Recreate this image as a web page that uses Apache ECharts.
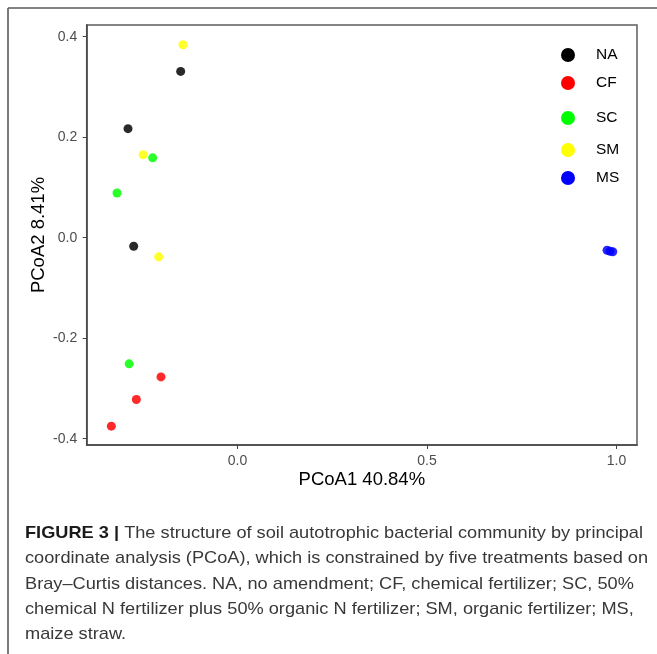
<!DOCTYPE html>
<html>
<head>
<meta charset="utf-8">
<script src="https://cdn.jsdelivr.net/npm/echarts@6/dist/echarts.min.js"></script>
<style>
html,body{margin:0;padding:0;background:#fff;}
#chart{width:657px;height:654px;}
</style>
</head>
<body>
<div id="chart"></div>
<script>
// ---- data ----
var groups = ['NA', 'CF', 'SC', 'SM', 'MS'];
var groupColors = ['#000000', '#ff0000', '#00ff00', '#ffff00', '#0000ff'];
var NA_pts = [[-0.150, 0.331], [-0.289, 0.217], [-0.274, -0.017]];
var CF_pts = [[-0.202, -0.277], [-0.267, -0.322], [-0.333, -0.375]];
var SC_pts = [[-0.224, 0.159], [-0.318, 0.089], [-0.286, -0.251]];
var SM_pts = [[-0.144, 0.384], [-0.249, 0.165], [-0.208, -0.038]];
var MS_pts = [[0.975, -0.025], [0.983, -0.027], [0.990, -0.028]];
var xTicks = [0.0, 0.5, 1.0];
var yTicks = [-0.4, -0.2, 0.0, 0.2, 0.4];
var xTitle = 'PCoA1 40.84%';
var yTitle = 'PCoA2 8.41%';
var captionBold = 'FIGURE 3 |';
var captionLines = [
  ' The structure of soil autotrophic bacterial community by principal',
  'coordinate analysis (PCoA), which is constrained by five treatments based on',
  'Bray\u2013Curtis distances. NA, no amendment; CF, chemical fertilizer; SC, 50%',
  'chemical N fertilizer plus 50% organic N fertilizer; SM, organic fertilizer; MS,',
  'maize straw.'
];

var groupData = [NA_pts, CF_pts, SC_pts, SM_pts, MS_pts];

// ---- layout ----
var chart = echarts.init(document.getElementById('chart'), null, {renderer: 'canvas'});
var FONT = 'Liberation Sans, Arial, sans-serif';

var legendTops = [47, 75, 110, 142, 170];
var legends = groups.map(function (g, i) {
  return {
    data: [g],
    orient: 'vertical',
    left: 561,
    top: legendTops[i],
    padding: 0,
    icon: 'circle',
    itemWidth: 14,
    itemHeight: 14,
    itemStyle: {opacity: 1},
    selectedMode: false,
    textStyle: {
      fontFamily: FONT,
      fontSize: 15.5,
      color: '#000',
      lineHeight: 14,
      padding: [0, 0, 0, 16]
    }
  };
});

var series = groups.map(function (g, i) {
  return {
    name: g,
    type: 'scatter',
    data: groupData[i],
    symbol: 'circle',
    symbolSize: 9,
    itemStyle: {color: groupColors[i], opacity: 0.84},
    emphasis: {disabled: true}
  };
});

// caption horizontal scale measured from the text itself
var capSize = 17;
var cv = document.createElement('canvas').getContext('2d');
cv.font = 'bold ' + capSize + 'px ' + FONT;
var wB = cv.measureText(captionBold).width;
cv.font = capSize + 'px ' + FONT;
var wR = cv.measureText(captionLines[0]).width;
var capScale = 618 / (wB + wR);

var capCenters = [533, 558, 584, 609, 634];
var graphics = [
  {type: 'line', shape: {x1: 8, y1: 8, x2: 657, y2: 8}, style: {stroke: '#5a5a5a', lineWidth: 1.6}, silent: true},
  {type: 'line', shape: {x1: 8, y1: 8, x2: 8, y2: 654}, style: {stroke: '#5a5a5a', lineWidth: 1.6}, silent: true}
];
captionLines.forEach(function (line, i) {
  var txt = (i === 0 ? '{b|' + captionBold + '}' : '') + '{n|' + line + '}';
  graphics.push({
    type: 'text',
    x: 25,
    y: capCenters[i],
    scaleX: capScale,
    silent: true,
    style: {
      text: txt,
      verticalAlign: 'middle',
      align: 'left',
      rich: {
        b: {fontFamily: FONT, fontSize: capSize, fontWeight: 'bold', fill: '#1a1a1a', color: '#1a1a1a'},
        n: {fontFamily: FONT, fontSize: capSize, fill: '#383838', color: '#383838'}
      }
    }
  });
});

var option = {
  backgroundColor: '#ffffff',
  animation: false,
  legend: legends,
  grid: {
    left: 86.7, top: 25, right: 20, bottom: 209,
    show: true, borderColor: '#5e5e5e', borderWidth: 1.5, backgroundColor: 'transparent'
  },
  xAxis: {
    type: 'value',
    min: -0.398, max: 1.054,
    name: xTitle,
    nameLocation: 'middle',
    nameGap: 25,
    nameMoveOverlap: false,
    nameTextStyle: {fontFamily: FONT, fontSize: 18.5, color: '#000'},
    axisLine: {show: true, onZero: false, lineStyle: {color: '#444', width: 1.5}},
    axisTick: {show: true, length: 4, customValues: xTicks, lineStyle: {color: '#444', width: 1}},
    axisLabel: {
      customValues: xTicks, margin: 9,
      fontFamily: FONT, fontSize: 14, color: '#4d4d4d',
      formatter: function (v) { return v.toFixed(1); }
    },
    splitLine: {show: false}
  },
  yAxis: {
    type: 'value',
    min: -0.4125, max: 0.4233,
    name: yTitle,
    nameLocation: 'middle',
    nameGap: 38,
    nameMoveOverlap: false,
    nameRotate: 90,
    nameTextStyle: {fontFamily: FONT, fontSize: 18.5, color: '#000'},
    axisLine: {show: true, onZero: false, lineStyle: {color: '#444', width: 1.5}},
    axisTick: {show: true, length: 4, customValues: yTicks, lineStyle: {color: '#444', width: 1}},
    axisLabel: {
      customValues: yTicks, margin: 9.5,
      fontFamily: FONT, fontSize: 14, color: '#4d4d4d',
      formatter: function (v) { return v.toFixed(1); }
    },
    splitLine: {show: false}
  },
  series: series,
  graphic: graphics
};
chart.setOption(option);
</script>
</body>
</html>
